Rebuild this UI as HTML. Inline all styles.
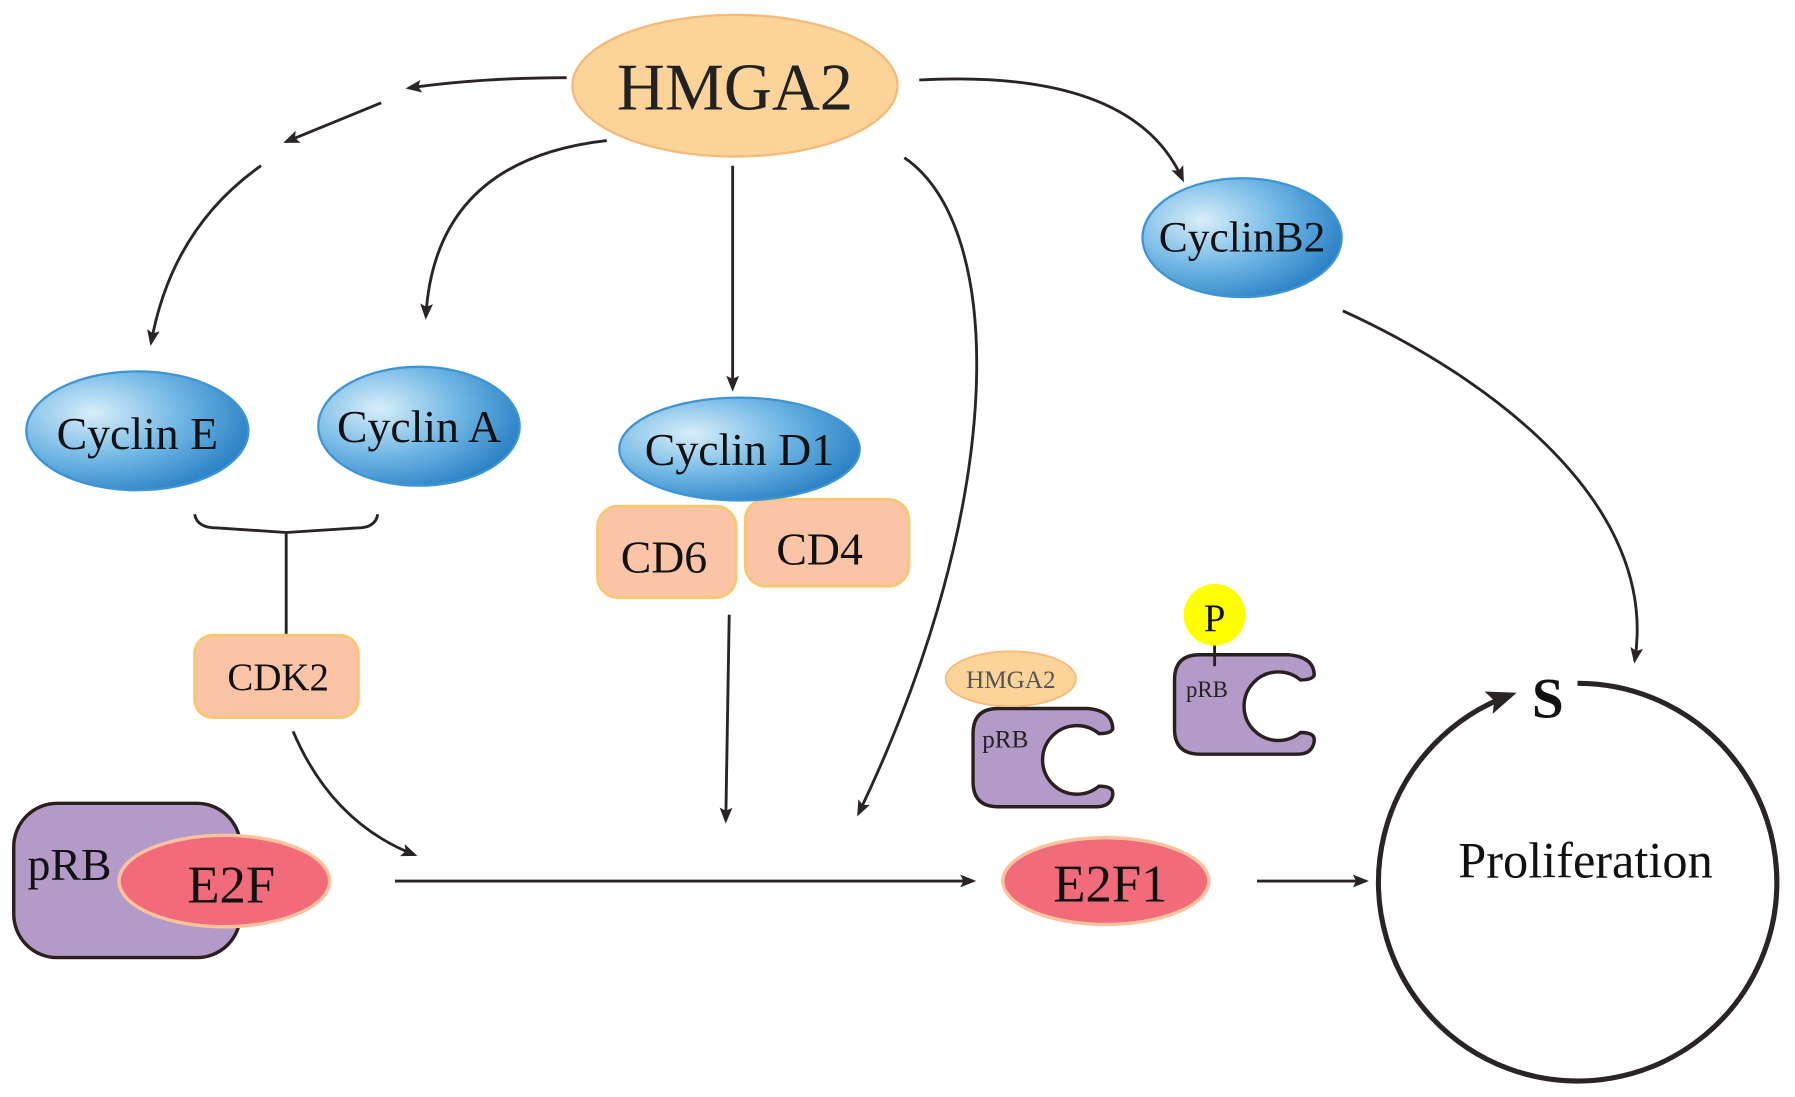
<!DOCTYPE html>
<html><head><meta charset="utf-8"><style>html,body{margin:0;padding:0;background:#fff}svg{display:block}</style></head>
<body>
<svg width="1795" height="1097" viewBox="0 0 1568 960" preserveAspectRatio="none" xmlns="http://www.w3.org/2000/svg" font-family="Liberation Serif, serif">
<defs>
<radialGradient id="bl" cx="0.3" cy="0.35" r="0.8">
<stop offset="0" stop-color="#d8eefa"/><stop offset="0.5" stop-color="#6fb6e4"/><stop offset="1" stop-color="#1f78c0"/>
</radialGradient>
<marker id="ar" viewBox="0 0 10 10" refX="8" refY="5" markerWidth="14" markerHeight="14" orient="auto" markerUnits="userSpaceOnUse">
<path d="M0,1 L10,5 L0,9 L2,5 Z" fill="#2a2424"/></marker>
<marker id="ar2" viewBox="0 0 10 10" refX="8" refY="5" markerWidth="26" markerHeight="26" orient="auto" markerUnits="userSpaceOnUse">
<path d="M0,1 L10,5 L0,9 L2,5 Z" fill="#2a2424"/></marker>
<style>.a{fill:none;stroke:#2a2424;stroke-width:2.5;marker-end:url(#ar)}</style>
</defs>
<rect width="1568" height="960" fill="#fff"/>

<path class="a" d="M495,68 Q420,68 357,77"/>
<path class="a" d="M333,90 L250,124"/>
<path class="a" d="M228,145 Q150,200 132,300"/>
<path class="a" d="M530,123 Q380,140 372,277"/>
<path class="a" d="M640,145 L640,340"/>
<path class="a" d="M790,138 C880,200 880,440 750,712"/>
<path class="a" d="M803,70 Q990,60 1033,157"/>
<path class="a" d="M1173,272 C1300,330 1450,440 1428,578"/>
<path class="a" d="M256,640 Q290,720 362,748"/>
<path class="a" d="M637,538 L634,718"/>
<path class="a" d="M345,771 L850,771"/>
<path class="a" d="M1098,771 L1193,771"/>

<path d="M170,450 Q172,462 190,462 L250,466 L312,462 Q328,462 330,450 M250,466 L250,556" fill="none" stroke="#2a2424" stroke-width="2.5"/>

<ellipse cx="642" cy="75" rx="142" ry="62" fill="#fcd49a" stroke="#f5b97a" stroke-width="2"/>
<text x="642" y="96" font-size="58" text-anchor="middle" fill="#222">HMGA2</text>

<ellipse cx="120" cy="377" rx="97" ry="52" fill="url(#bl)" stroke="#3d95d4" stroke-width="2"/>
<text x="120" y="393" font-size="40" text-anchor="middle" fill="#111">Cyclin E</text>
<ellipse cx="366" cy="373" rx="88" ry="52" fill="url(#bl)" stroke="#3d95d4" stroke-width="2"/>
<text x="366" y="387" font-size="40" text-anchor="middle" fill="#111">Cyclin A</text>
<ellipse cx="1085" cy="208" rx="87" ry="52" fill="url(#bl)" stroke="#3d95d4" stroke-width="2"/>
<text x="1085" y="220" font-size="38" text-anchor="middle" fill="#111">CyclinB2</text>

<rect x="522" y="443" width="121" height="80" rx="18" fill="#fbc4a7" stroke="#f7c871" stroke-width="2.5"/>
<text x="580" y="501" font-size="40" text-anchor="middle" fill="#111">CD6</text>
<rect x="651" y="437" width="143" height="76" rx="18" fill="#fbc4a7" stroke="#f7c871" stroke-width="2.5"/>
<text x="716" y="494" font-size="40" text-anchor="middle" fill="#111">CD4</text>
<ellipse cx="646" cy="393" rx="105" ry="45" fill="url(#bl)" stroke="#3d95d4" stroke-width="2"/>
<text x="646" y="407" font-size="40" text-anchor="middle" fill="#111">Cyclin D1</text>

<rect x="170" y="556" width="143" height="72" rx="16" fill="#fbc4a7" stroke="#f7c871" stroke-width="2.5"/>
<text x="243" y="604" font-size="34" text-anchor="middle" fill="#111">CDK2</text>

<rect x="12" y="703" width="198" height="135" rx="38" fill="#b49ac8" stroke="#2a2020" stroke-width="3"/>
<text x="24" y="770" font-size="40" fill="#111">pRB</text>
<ellipse cx="196" cy="771" rx="92" ry="40" fill="#f26b7a" stroke="#f9c3a0" stroke-width="3"/>
<text x="202" y="790" font-size="46" text-anchor="middle" fill="#111">E2F</text>

<ellipse cx="966" cy="771" rx="90" ry="38" fill="#f26b7a" stroke="#f9c3a0" stroke-width="3"/>
<text x="970" y="789" font-size="46" text-anchor="middle" fill="#111">E2F1</text>

<path d="M872,620 L950,620 Q972,622 972,638 Q970,642 960,642 A30,30 0 1 0 960,688 Q972,688 972,694 L972,696 Q970,706 958,706 L872,706 Q850,706 850,684 L850,642 Q850,620 872,620 Z" fill="#b49ac8" stroke="#2a2020" stroke-width="3"/>
<text x="858" y="654" font-size="22" fill="#222">pRB</text>
<ellipse cx="883" cy="594" rx="57" ry="24" fill="#fcd49a" stroke="#f5b97a" stroke-width="1.5"/>
<text x="883" y="602" font-size="22" text-anchor="middle" fill="#555">HMGA2</text>

<path d="M1048,573 L1126,573 Q1148,575 1148,591 Q1146,595 1136,595 A30,30 0 1 0 1136,641 Q1148,641 1148,647 L1148,649 Q1146,660 1134,660 L1048,660 Q1026,660 1026,638 L1026,595 Q1026,573 1048,573 Z" fill="#b49ac8" stroke="#2a2020" stroke-width="3"/>
<text x="1036" y="610" font-size="20" fill="#222">pRB</text>
<line x1="1061" y1="560" x2="1061" y2="583" stroke="#2a2020" stroke-width="2.5"/>
<circle cx="1061" cy="538" r="27" fill="#ffff00"/>
<text x="1061" y="552" font-size="34" text-anchor="middle" fill="#111">P</text>

<path d="M1378,598 A174,174 0 1 1 1320,608" fill="none" stroke="#2a2424" stroke-width="4.5" marker-end="url(#ar2)"/>
<text x="1352" y="628" font-size="50" font-weight="bold" text-anchor="middle" fill="#111">S</text>
<text x="1385" y="768" font-size="44" text-anchor="middle" fill="#111">Proliferation</text>
</svg>
</body></html>
